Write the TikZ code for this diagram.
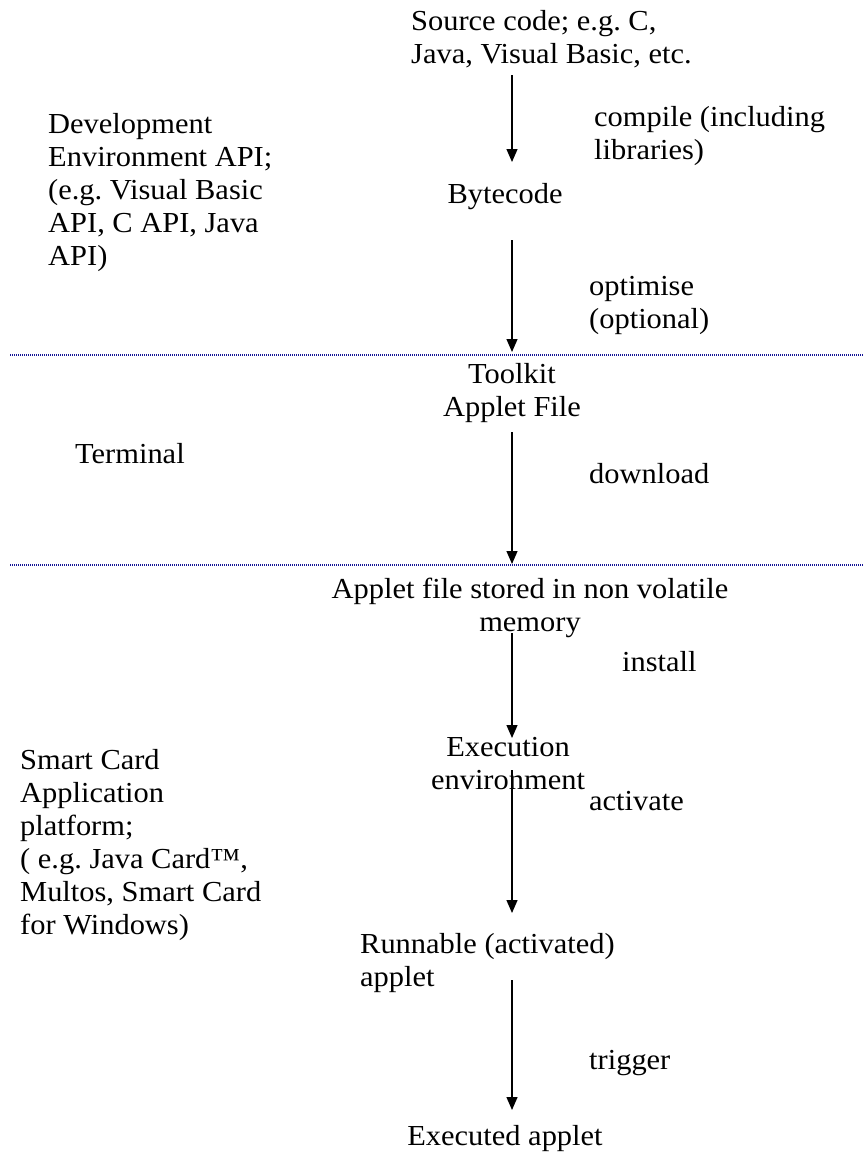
\documentclass[tikz,border=0pt]{standalone}
\usepackage{fontspec}
\setmainfont[FakeStretch=1.05]{Liberation Serif}
\usetikzlibrary{arrows.meta}
\definecolor{zoneblue}{RGB}{20,20,150}
\frenchspacing
\begin{document}
\begin{tikzpicture}[x=1pt, y=-1pt,
    txt/.style={inner sep=0pt, font=\fontsize{29}{33}\selectfont},
    flow/.style={-{Triangle[width=11pt,length=13pt]}, line width=1.3pt},
    zone/.style={zoneblue, line width=1.2pt, dash pattern=on 1pt off 1pt}]
\useasboundingbox (0,0) rectangle (864,1156);

% main steps
\node[txt, anchor=north west, align=left] (src) at (411,10) {Source code; e.g. C,\\Java, Visual Basic, etc.};
\node[txt, anchor=north] (byte) at (505,183) {Bytecode};
\node[txt, anchor=north, align=center] (tk) at (512,363) {Toolkit\\Applet File};
\node[txt, anchor=north, align=center] (nvm) at (530,578) {Applet file stored in non volatile\\memory};
\node[txt, anchor=north, align=center] (exe) at (508,737) {Execution\\environment};
\node[txt, anchor=north west, align=left] (run) at (360,933) {Runnable (activated)\\applet};
\node[txt, anchor=north] (done) at (505,1125) {Executed applet};

% side notes
\node[txt, anchor=north west, align=left] (dev) at (48,113) {Development\\Environment API;\\(e.g. Visual Basic\\API, C API, Java\\API)};
\node[txt, anchor=north west] (term) at (75,443) {Terminal};
\node[txt, anchor=north west, align=left] (card) at (20,749) {Smart Card\\Application\\platform;\\( e.g. Java Card™,\\Multos, Smart Card\\for Windows)};

% step labels
\node[txt, anchor=north west, align=left] (l1) at (594,106) {compile (including\\libraries)};
\node[txt, anchor=north west, align=left] (l2) at (589,276) {optimise\\(optional)};
\node[txt, anchor=north west] (l3) at (589,463) {download};
\node[txt, anchor=north west] (l4) at (622,651) {install};
\node[txt, anchor=north west] (l5) at (589,791) {activate};
\node[txt, anchor=north west] (l6) at (589,1050) {trigger};

% zone borders
\coordinate (z1a) at (10,355);  \coordinate (z1b) at (864,355);
\coordinate (z2a) at (10,565);  \coordinate (z2b) at (864,565);
\draw[zone] (z1a) -- (z1b);
\draw[zone] (z2a) -- (z2b);

% arrows
\coordinate (a1) at (512,75);   \coordinate (b1) at (512,162);
\coordinate (a2) at (512,240);  \coordinate (b2) at (512,352);
\coordinate (a3) at (512,432);  \coordinate (b3) at (512,564);
\coordinate (a4) at (512,633);  \coordinate (b4) at (512,738);
\coordinate (a5) at (512,770);  \coordinate (b5) at (512,913);
\coordinate (a6) at (512,980);  \coordinate (b6) at (512,1110);
\foreach \i in {1,...,6}
  \draw[flow] (a\i) -- (b\i);
\end{tikzpicture}
\end{document}
